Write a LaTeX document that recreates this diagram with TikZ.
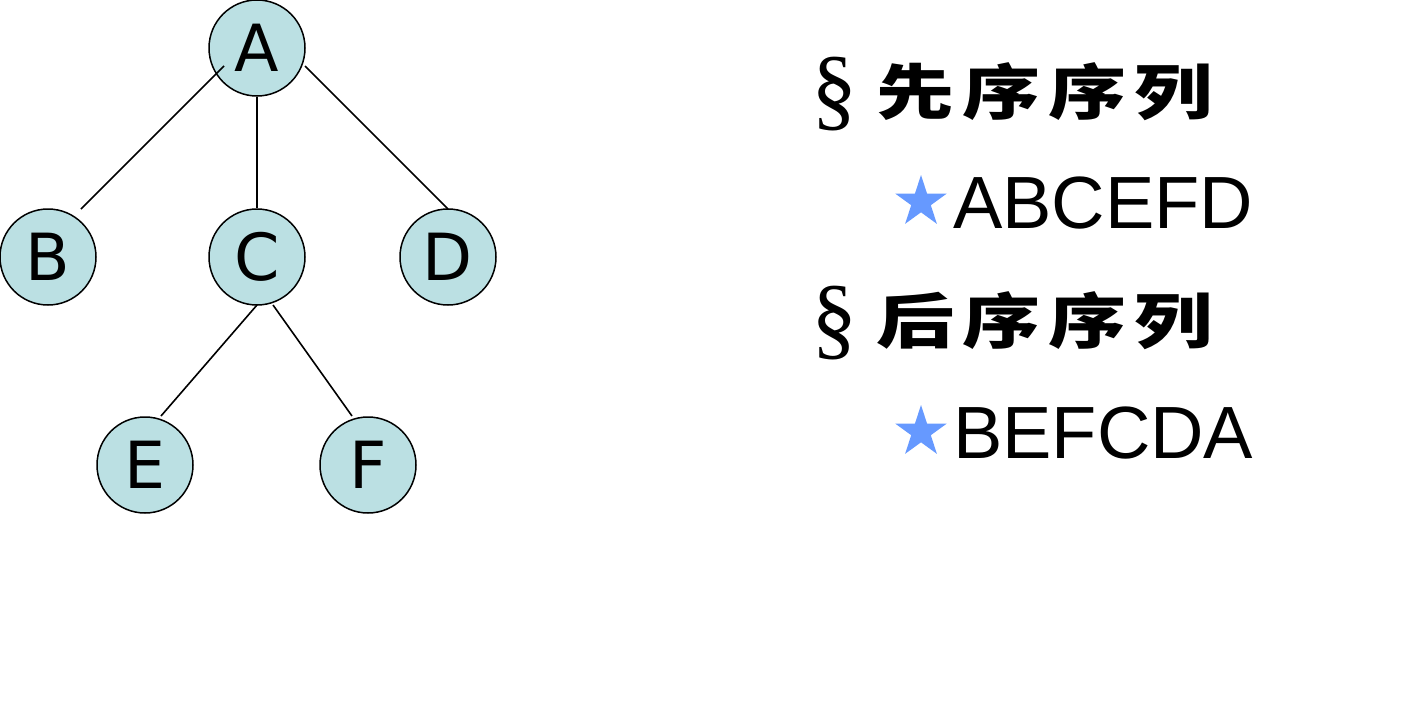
\documentclass[tikz,border=0pt]{standalone}
\usepackage{fontspec}
\setmainfont{Liberation Sans}
\newfontfamily\nodefont{DejaVu Sans}
\newfontfamily\cjkfont[FakeStretch=1.3]{Noto Sans CJK SC}
\newfontfamily\secfont{Liberation Serif}
\usetikzlibrary{shapes.geometric}
\definecolor{nodefill}{HTML}{BBE0E3}
\definecolor{starblue}{HTML}{6699FF}
\tikzset{
  tnode/.style={circle, draw=black, line width=1.5pt, fill=nodefill, minimum size=96pt, inner sep=0pt, font=\nodefont\fontsize{65}{65}\selectfont},
  tedge/.style={line width=1.6pt},
  bstar/.style={star, star points=5, star point ratio=2.618, fill=starblue, minimum size=54pt, inner sep=0pt},
  sec/.style={anchor=center, inner sep=0pt, font=\secfont\fontsize{92}{92}\selectfont},
  cjk/.style={anchor=west, inner sep=0pt, font=\cjkfont\bfseries\fontsize{60}{60}\selectfont},
  seq/.style={anchor=base west, inner sep=0pt, font=\fontsize{74}{74}\selectfont}
}
\begin{document}
\begin{tikzpicture}[x=1pt, y=-1pt]
\useasboundingbox[fill=white] (0,0) rectangle (1414,725);
% tree
\node[tnode] (A) at (257,48) {A};
\node[tnode] (B) at (48,257) {B};
\node[tnode] (C) at (257,257) {C};
\node[tnode] (D) at (448,257) {D};
\node[tnode] (E) at (145,465) {E};
\node[tnode] (F) at (368,465) {F};
\coordinate (ab1) at (224,66);
\coordinate (ab2) at (81,209);
\coordinate (ad1) at (305,66);
\coordinate (ad2) at (448,209);
\coordinate (ce1) at (257,305);
\coordinate (ce2) at (161,416);
\coordinate (cf1) at (273,305);
\coordinate (cf2) at (352,416);
\draw[tedge] (ab1) -- (ab2);
\draw[tedge] (A) -- (C);
\draw[tedge] (ad1) -- (ad2);
\draw[tedge] (ce1) -- (ce2);
\draw[tedge] (cf1) -- (cf2);
% text
\node[sec] (s1) at (834,94) {\S};
\node[cjk] (t1) at (876,92) {先\hspace{8pt}序\hspace{8pt}序\hspace{8pt}列};
\node[bstar] (st1) at (921,202) {};
\node[seq] (q1) at (953,228) {ABCEFD};
\node[sec] (s2) at (834,323) {\S};
\node[cjk] (t2) at (876,321) {后\hspace{8pt}序\hspace{8pt}序\hspace{8pt}列};
\node[bstar] (st2) at (921,432) {};
\node[seq] (q2) at (953,458) {BEFCDA};
\end{tikzpicture}
\end{document}
